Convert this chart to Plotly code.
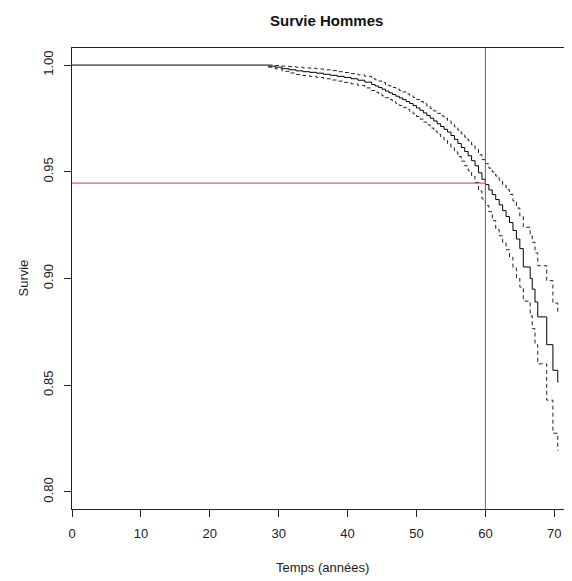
import plotly.graph_objects as go

# Kaplan-Meier estimate (men) and 95% confidence bounds
temps = [0, 28.5, 29.5, 30.5, 31.5, 32.5, 33.5, 34.5, 35.5, 36.5, 37.5, 38.5, 39.5,
         40.5, 41.5, 42.5, 43.5,
         44.0, 44.5, 45.0, 45.5, 46.0, 46.5, 47.0, 47.5, 48.0, 48.5, 49.0, 49.5,
         50.0, 50.5, 51.0, 51.5, 52.0, 52.5, 53.0, 53.5, 54.0, 54.5, 55.0, 55.5,
         56.0, 56.5, 57.0, 57.5, 58.0, 58.5, 59.0, 59.5, 60.0, 60.5, 61.0, 61.5,
         62.0, 62.5, 63.0, 63.5, 64.0, 64.5, 65.0, 65.5,
         66.5, 66.8, 67.2, 67.6, 68.9, 69.8, 70.5, 70.6]
survie = [1.0, 0.9995, 0.9990, 0.9983, 0.9978, 0.9973, 0.9969, 0.9966, 0.9962, 0.9957,
          0.9952, 0.9947, 0.9942, 0.9936, 0.9929, 0.9920, 0.9909,
          0.9902, 0.9895, 0.9887, 0.9878, 0.9870, 0.9862, 0.9854, 0.9846, 0.9838, 0.9829,
          0.9820, 0.9810, 0.9799, 0.9788, 0.9776, 0.9764, 0.9751, 0.9738, 0.9725, 0.9712,
          0.9699, 0.9686, 0.9670, 0.9652, 0.9633, 0.9614, 0.9595, 0.9575, 0.9552, 0.9528,
          0.9495, 0.9465, 0.9440, 0.9415, 0.9393, 0.9370, 0.9345, 0.9318, 0.9290, 0.9262,
          0.9225, 0.9185, 0.9140, 0.9054,
          0.9000, 0.8950, 0.8890, 0.8820, 0.8690, 0.8570, 0.8515, 0.8515]
borne_sup = [1.0, 1.0, 0.9998, 0.9995, 0.9993, 0.9990, 0.9987, 0.9985, 0.9982, 0.9978,
             0.9974, 0.9969, 0.9965, 0.9960, 0.9954, 0.9947, 0.9937,
             0.9931, 0.9925, 0.9918, 0.9909, 0.9902, 0.9895, 0.9888, 0.9881, 0.9874, 0.9865,
             0.9857, 0.9848, 0.9839, 0.9829, 0.9819, 0.9808, 0.9797, 0.9785, 0.9774, 0.9762,
             0.9751, 0.9740, 0.9727, 0.9711, 0.9695, 0.9678, 0.9662, 0.9645, 0.9626, 0.9606,
             0.9580, 0.9557, 0.9538, 0.9517, 0.9499, 0.9480, 0.9460, 0.9438, 0.9416, 0.9394,
             0.9363, 0.9330, 0.9292, 0.9240,
             0.9200, 0.9170, 0.9120, 0.9060, 0.8990, 0.8885, 0.8840, 0.8840]
borne_inf = [1.0, 0.9990, 0.9982, 0.9971, 0.9963, 0.9956, 0.9951, 0.9947, 0.9942, 0.9936,
             0.9930, 0.9925, 0.9919, 0.9912, 0.9904, 0.9893, 0.9881,
             0.9873, 0.9865, 0.9856, 0.9847, 0.9838, 0.9829, 0.9820, 0.9811, 0.9802, 0.9793,
             0.9783, 0.9772, 0.9759, 0.9747, 0.9733, 0.9720, 0.9705, 0.9691, 0.9676, 0.9662,
             0.9647, 0.9632, 0.9613, 0.9593, 0.9571, 0.9550, 0.9528, 0.9505, 0.9478, 0.9450,
             0.9410, 0.9373, 0.9342, 0.9313, 0.9272, 0.9230, 0.9200, 0.9170, 0.9135, 0.9100,
             0.9050, 0.9000, 0.8960, 0.8894,
             0.8825, 0.8765, 0.8690, 0.8600, 0.8430, 0.8275, 0.8195, 0.8195]

age_ref = 60
survie_ref = 0.9447

x_ticks = [0, 10, 20, 30, 40, 50, 60, 70]
y_ticks = [0.80, 0.85, 0.90, 0.95, 1.00]
y_ticklabels = ["0.80", "0.85", "0.90", "0.95", "1.00"]

fig = go.Figure()
fig.add_trace(go.Scatter(x=temps, y=survie, mode="lines", line_shape="hv",
                         line=dict(color="black", width=1), showlegend=False))
for b in (borne_sup, borne_inf):
    fig.add_trace(go.Scatter(x=temps[1:], y=b[1:], mode="lines", line_shape="hv",
                             line=dict(color="#222", width=1, dash="4px,3px"),
                             showlegend=False))

red = "rgb(220,50,50)"
fig.add_trace(go.Scatter(x=[0, age_ref], y=[survie_ref, survie_ref], mode="lines",
                         line=dict(color=red, width=1), showlegend=False))
fig.add_shape(type="line", xref="x", yref="paper", x0=age_ref, x1=age_ref, y0=0, y1=1,
              line=dict(color=red, width=1))

font = dict(family="Liberation Sans, Arial, sans-serif", size=13, color="#222")

fig.update_layout(
    width=564, height=573,
    margin=dict(l=64, r=0, t=40, b=72),
    plot_bgcolor="white", paper_bgcolor="white",
    font=font,
    xaxis=dict(range=[0, 72.57], tickvals=x_ticks, showgrid=False, zeroline=False,
               showline=True, mirror=True, linecolor="#222", linewidth=1,
               ticks="outside", ticklen=7, tickcolor="#222", tickfont=dict(size=13),
               ticklabelstandoff=5),
    yaxis=dict(range=[0.792, 1.008], tickvals=y_ticks, ticktext=y_ticklabels,
               showgrid=False, zeroline=False, showline=True, mirror=False,
               linecolor="#222", linewidth=1, ticks="outside", ticklen=7,
               tickcolor="#222", tickangle=-90, tickfont=dict(size=13),
               ticklabelstandoff=6),
    annotations=[
        dict(text="<b>Survie Hommes</b>", xref="paper", yref="paper", x=0.508, y=1,
             yshift=28, showarrow=False, font=dict(size=15, color="#111"),
             xanchor="center", yanchor="middle"),
        dict(text="Temps (années)", xref="paper", yref="paper", x=0.5, y=0,
             yshift=-58, showarrow=False, xanchor="center", yanchor="middle"),
        dict(text="Survie", xref="paper", yref="paper", x=0, y=0.5, xshift=-49,
             textangle=-90, showarrow=False, xanchor="center", yanchor="middle"),
    ],
)

fig.write_html("out.html")
